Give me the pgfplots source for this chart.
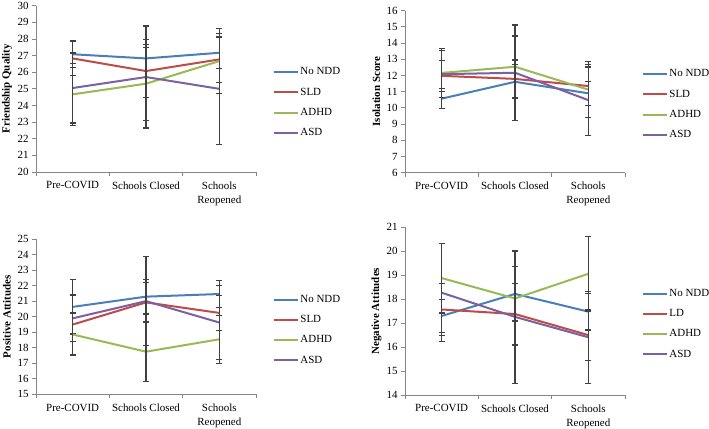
\documentclass[border=0pt]{standalone}
\usepackage{fontspec}
\setmainfont{Liberation Serif}
\usepackage{pgfplots}
\pgfplotsset{compat=1.18}
\definecolor{cBlue}{HTML}{4A7EBB}
\definecolor{cRed}{HTML}{BE4B48}
\definecolor{cGreen}{HTML}{98B954}
\definecolor{cPurple}{HTML}{7D60A0}
\definecolor{axgray}{HTML}{868686}
\definecolor{ebcol}{HTML}{404040}
\pgfplotsset{
  panel/.style={
    scale only axis, width=220bp,
    xmin=-0.5, xmax=2.5,
    axis lines*=left,
    axis line style={draw=axgray, line width=0.8bp, -},
    tick align=outside,
    major tick length=4bp,
    xtick={-0.5,0.5,1.5,2.5}, xticklabels={},
    extra x ticks={0,1,2},
    extra x tick labels={Pre-COVID,Schools Closed,{Schools\\Reopened}},
    extra x tick style={major tick length=0pt},
    ytick distance=1,
    tick style={draw=axgray, line width=0.8bp},
    tick label style={font=\fontsize{11}{14}\selectfont, text=black},
    xticklabel style={align=center, yshift=-6bp},
    /pgf/number format/assume math mode=true,
    ylabel style={font=\fontsize{11}{13}\selectfont\bfseries, anchor=center},
    legend cell align=left,
    legend image code/.code={\draw[##1, line width=2bp] (0bp,0bp) -- (24bp,0bp);},
    legend style={draw=none, fill=none, anchor=west, inner sep=0pt, outer sep=0pt,
      row sep=6.7bp, column sep=0bp, font=\fontsize{11}{13}\selectfont,
      nodes={inner sep=1.5bp, text height=8bp, text depth=2.5bp}},
  },
  eb/.style={error bars/y dir=both, error bars/y explicit,
    error bars/error bar style={line width=1.2bp, draw=ebcol, solid},
    error bars/error mark=-,
    error bars/error mark options={rotate=90, line width=1.2bp, draw=ebcol, mark size=3bp}},
}
\begin{document}
\begin{tikzpicture}[x=1bp,y=1bp]
\useasboundingbox (0,0) rectangle (709,428);
% Panel 1: Friendship Quality
\begin{axis}[panel, at={(36bp,256bp)}, anchor=south west, height=166.3bp,
  ymin=20, ymax=30, ylabel={Friendship Quality},
  ylabel style={at={(axis description cs:-0.132,0.5)}},
  legend style={at={(axis description cs:1.077,0.418)}}]
\addplot[cBlue, line width=2bp, eb] coordinates {(0,27.08) +- (0,0.8) (1,26.83) +- (0,1.15) (2,27.17) +- (0,0.95)};
\addplot[cRed, line width=2bp, eb] coordinates {(0,26.83) +- (0,1.05) (1,26.07) +- (0,1.6) (2,26.77) +- (0,1.4)};
\addplot[cGreen, line width=2bp, eb] coordinates {(0,24.67) +- (0,1.85) (1,25.31) +- (0,2.2) (2,26.67) +- (0,1.95)};
\addplot[cPurple, line width=2bp, eb] coordinates {(0,25.05) +- (0,2.1) (1,25.71) +- (0,3.07) (2,25.0) +- (0,3.35)};
\legend{No NDD, SLD, ADHD, ASD}
\end{axis}
% Panel 2: Isolation Score
\begin{axis}[panel, at={(405bp,255.3bp)}, anchor=south west, height=162bp,
  ymin=6, ymax=16, ylabel={Isolation Score},
  ylabel style={at={(axis description cs:-0.13,0.5)}},
  legend style={at={(axis description cs:1.077,0.421)}}]
\addplot[cBlue, line width=2bp, eb] coordinates {(0,10.57) +- (0,0.63) (1,11.61) +- (0,1.05) (2,10.9) +- (0,0.74)};
\addplot[cRed, line width=2bp, eb] coordinates {(0,11.98) +- (0,0.95) (1,11.79) +- (0,1.17) (2,11.35) +- (0,1.18)};
\addplot[cGreen, line width=2bp, eb] coordinates {(0,12.16) +- (0,1.5) (1,12.54) +- (0,1.9) (2,11.13) +- (0,1.73)};
\addplot[cPurple, line width=2bp, eb] coordinates {(0,12.08) +- (0,1.45) (1,12.17) +- (0,2.95) (2,10.48) +- (0,2.2)};
\legend{No NDD, SLD, ADHD, ASD}
\end{axis}
% Panel 3: Positive Attitudes
\begin{axis}[panel, at={(36bp,33.7bp)}, anchor=south west, height=155bp,
  ymin=15, ymax=25, ylabel={Positive Attitudes},
  ylabel style={at={(axis description cs:-0.132,0.5)}},
  legend style={at={(axis description cs:1.077,0.415)}}]
\addplot[cBlue, line width=2bp, eb] coordinates {(0,20.64) +- (0,1.75) (1,21.3) +- (0,1.12) (2,21.47) +- (0,0.85)};
\addplot[cRed, line width=2bp, eb] coordinates {(0,19.5) +- (0,1.95) (1,20.93) +- (0,1.28) (2,20.25) +- (0,1.15)};
\addplot[cGreen, line width=2bp, eb] coordinates {(0,18.86) +- (0,1.38) (1,17.75) +- (0,1.93) (2,18.55) +- (0,1.55)};
\addplot[cPurple, line width=2bp, eb] coordinates {(0,19.9) +- (0,1.47) (1,21.01) +- (0,2.88) (2,19.63) +- (0,2.4)};
\legend{No NDD, SLD, ADHD, ASD}
\end{axis}
% Panel 4: Negative Attitudes
\begin{axis}[panel, at={(405bp,33bp)}, anchor=south west, height=167.7bp,
  ymin=14, ymax=21, ylabel={Negative Attitudes},
  ylabel style={at={(axis description cs:-0.13,0.5)}},
  legend style={at={(axis description cs:1.077,0.423)}}]
\addplot[cBlue, line width=2bp, eb] coordinates {(0,17.3) +- (0,0.7) (1,18.22) +- (0,1.13) (2,17.48) +- (0,0.77)};
\addplot[cRed, line width=2bp, eb] coordinates {(0,17.57) +- (0,1.08) (1,17.38) +- (0,1.29) (2,16.5) +- (0,1.05)};
\addplot[cGreen, line width=2bp, eb] coordinates {(0,18.88) +- (0,1.46) (1,18.03) +- (0,1.97) (2,19.06) +- (0,1.57)};
\addplot[cPurple, line width=2bp, eb] coordinates {(0,18.27) +- (0,2.04) (1,17.26) +- (0,2.78) (2,16.41) +- (0,1.92)};
\legend{No NDD, LD, ADHD, ASD}
\end{axis}
\end{tikzpicture}
\end{document}
